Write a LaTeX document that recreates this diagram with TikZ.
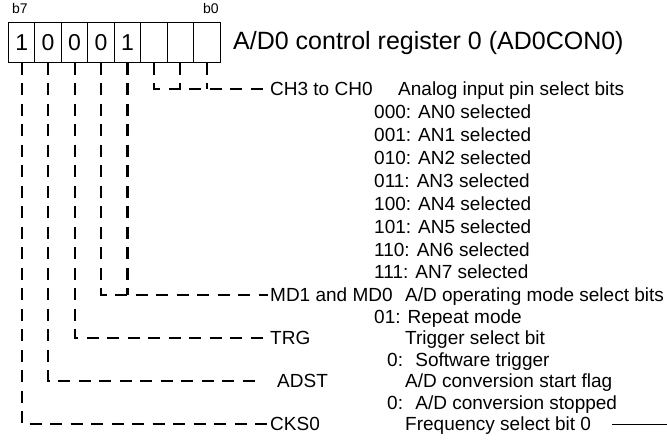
\documentclass[tikz,border=0pt]{standalone}
\usepackage{fontspec}
\setmainfont{Liberation Sans}
\begin{document}
\begin{tikzpicture}
[x=1pt,y=-1pt,
 bit/.style={rectangle,draw,line width=1pt,minimum width=26.44pt,minimum height=40pt,inner sep=0pt,font=\fontsize{23}{23}\selectfont},
 lbl/.style={anchor=west,inner sep=0pt,text height=13.6pt,text depth=0pt,font=\fontsize{19}{22}\selectfont},
 lead/.style={line width=2.2pt,dash pattern=on 12pt off 8.5pt,shorten >=2pt}]
\useasboundingbox (0,0) rectangle (667,443);
\node(b7) at (21.7,42.5)[bit]{1};\node(b6) at (48.1,42.5)[bit]{0};\node(b5) at (74.6,42.5)[bit]{0};\node(b4) at (101.0,42.5)[bit]{0};
\node(b3) at (127.5,42.5)[bit]{1};\node(b2) at (153.9,42.5)[bit]{};\node(b1) at (180.3,42.5)[bit]{};\node(b0) at (206.8,42.5)[bit]{};
\node(n7) at (20,9)[font=\fontsize{14}{14}\selectfont]{b7};\node(n0) at (211,9)[font=\fontsize{14}{14}\selectfont]{b0};
\node(title) at (233,43)[anchor=west,inner sep=0pt,font=\fontsize{25}{25}\selectfont]{A/D0 control register 0 (AD0CON0)};
\node(ch) at (270,89)[lbl]{CH3 to CH0};\node(chd) at (398,89)[lbl]{Analog input pin select bits};
\node(s0) at (374,111.9)[lbl]{000: AN0 selected};\node(s1) at (374,134.8)[lbl]{001: AN1 selected};
\node(s2) at (374,157.7)[lbl]{010: AN2 selected};\node(s3) at (374,180.6)[lbl]{011: AN3 selected};
\node(s4) at (374,203.5)[lbl]{100: AN4 selected};\node(s5) at (374,226.4)[lbl]{101: AN5 selected};
\node(s6) at (374,249.3)[lbl]{110: AN6 selected};\node(s7) at (374,272.2)[lbl]{111: AN7 selected};
\node(md) at (270,295)[lbl]{MD1 and MD0};\node(mdd) at (405,295)[lbl]{A/D operating mode select bits};
\node(mds) at (374,316.5)[lbl]{01: Repeat mode};
\node(trg) at (270,338)[lbl]{TRG};\node(trgd) at (405,338)[lbl]{Trigger select bit};
\node(trgs) at (387,359.5)[lbl]{0:~ Software trigger};
\node(adst) at (277,381)[lbl]{ADST};\node(adstd) at (405,381)[lbl]{A/D conversion start flag};
\node(adsts) at (387,402.5)[lbl]{0:~ A/D conversion stopped};
\node(cks) at (270,424)[lbl]{CKS0};\node(cksd) at (405,424)[lbl]{Frequency select bit 0};
\draw[lead](b2.south)|-(ch.west);\draw[lead,shorten >=0pt](b1.south)--(b1.south|-ch.west);\draw[lead,shorten >=0pt](b0.south)--(b0.south|-ch.west);
\draw[lead](b4.south)|-(md.west);\draw[lead,shorten >=0pt](b3.south)--(b3.south|-md.west);
\draw[lead](b5.south)|-(trg.west);\draw[lead,shorten >=17pt](b6.south)|-(adst.west);\draw[lead](b7.south)|-(cks.west);
\coordinate(r1) at (612,425);\coordinate(r2) at (667,425);\draw[line width=1pt](r1)--(r2);
\end{tikzpicture}
\end{document}
